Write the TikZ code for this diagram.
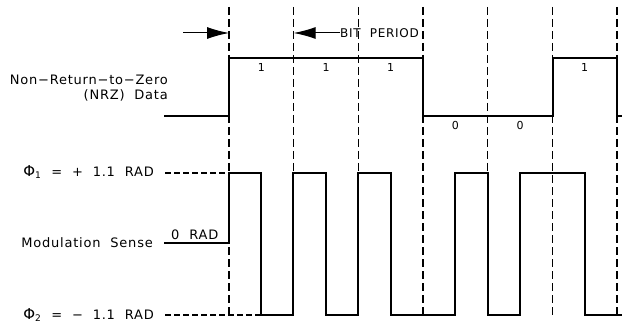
\documentclass[tikz,border=0pt]{standalone}
\usepackage{fontspec}
\setmainfont{DejaVu Sans}[LetterSpace=6]
\usetikzlibrary{arrows.meta}

\newcommand{\phs}[1]{{\fontsize{15}{15}\selectfont Φ}\textsubscript{#1}}

\begin{document}
\begin{tikzpicture}[x=1pt,y=-1pt,
    wave/.style={line width=2pt},
    grid/.style={line width=1.6pt,dash pattern=on 8pt off 4pt},
    level/.style={line width=1.2pt,dash pattern=on 6pt off 3pt},
    lbl/.style={font=\fontsize{13}{14.5}\selectfont,inner sep=0pt},
    bit/.style={font=\fontsize{11}{12}\selectfont,inner sep=0pt},
    tip/.style={line width=1pt,-{Latex[length=22pt,width=12pt]}}]
  \useasboundingbox (0,0) rectangle (622,329);

  % bit boundaries
  \foreach \i in {0,...,6} {
    \coordinate (t\i) at ({229+64.67*\i},7);
    \coordinate (u\i) at ({229+64.67*\i},316);
    \draw[grid] (t\i) -- (u\i);
  }

  % labels
  \node[lbl,anchor=east,align=right] (nrz) at (168,88) {Non−Return−to−Zero\\(NRZ)\ \ Data};
  \node[lbl,anchor=east] (phiup) at (154,172) {\phs{1}\ \ =\ \ +\ \ 1.1\ \ RAD};
  \node[lbl,anchor=east] (sense) at (153,243) {Modulation\ \ Sense};
  \node[lbl,anchor=base west] (zero) at (171,239) {0\ \ RAD};
  \node[lbl,anchor=east] (phidn) at (154,315) {\phs{2}\ \ =\ \ −\ \ 1.1\ \ RAD};
  \node[lbl,anchor=west,font=\fontsize{12}{14}\selectfont] (period) at (340,33) {BIT\ \ PERIOD};
  \coordinate (start) at (183,33);

  \foreach \i/\v in {0/1,1/1,2/1,5/1} \node[bit] (d\i) at ({229+64.67*(\i+0.5)},67) {\v};
  \foreach \i/\v in {3/0,4/0} \node[bit] (d\i) at ({229+64.67*(\i+0.5)},125) {\v};

  % bit period arrows
  \draw[tip] (start) -- (t0 |- start);
  \draw[tip] (period.west) -- (t1 |- period.west);

  % NRZ data
  \draw[wave] (164,116) -- (229,116) -- (229,58) -- (423,58) -- (423,116)
    -- (553,116) -- (553,58) -- (617,58) -- (617,116) -- (622,116);

  % phase levels
  \draw[level] (165,173) -- (229,173);
  \draw[level] (165,315) -- (261,315);

  % modulation sense
  \draw[wave] (164,243) -- (229,243) -- (229,173) -- (261,173) -- (261,315)
    -- (293,315) -- (293,173) -- (326,173) -- (326,315) -- (358,315)
    -- (358,173) -- (391,173) -- (391,315) -- (455,315) -- (455,173)
    -- (488,173) -- (488,315) -- (520,315) -- (520,173) -- (585,173)
    -- (585,315) -- (622,315);
\end{tikzpicture}
\end{document}
